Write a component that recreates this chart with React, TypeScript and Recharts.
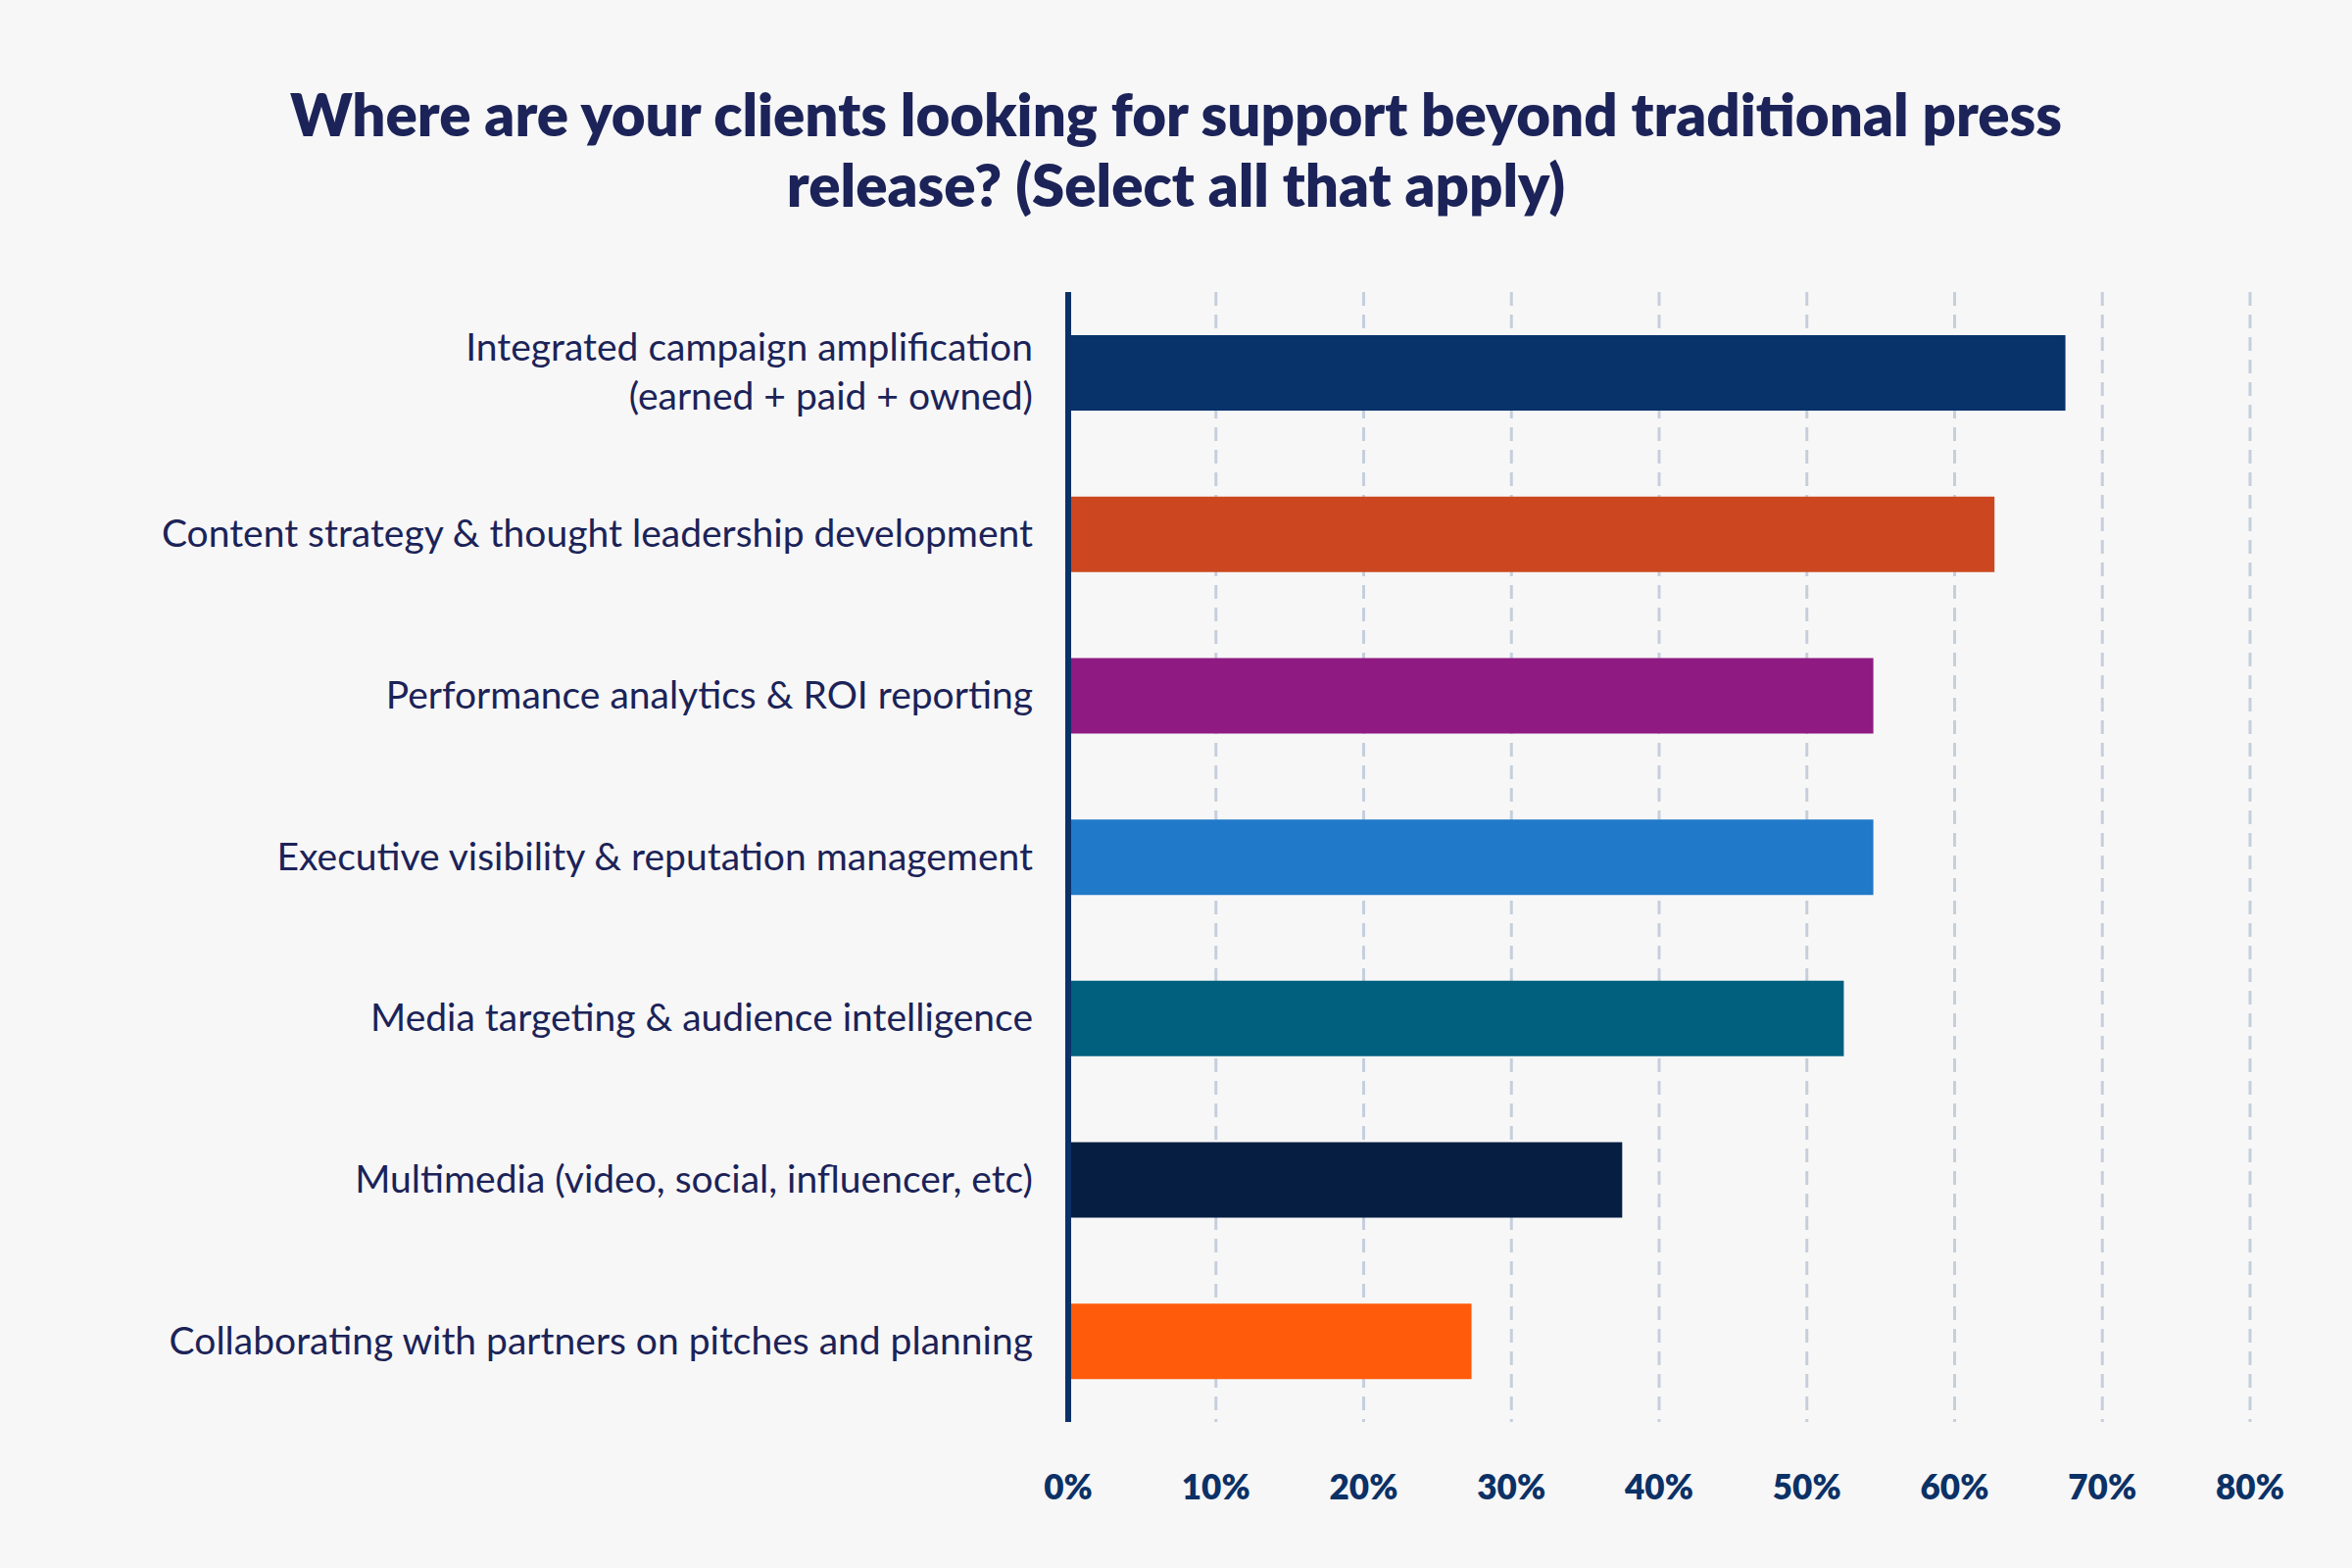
import React from 'react';
import { BarChart, Bar, XAxis, YAxis, CartesianGrid, Cell } from 'recharts';

const categories = [
  'Integrated campaign amplification\n(earned + paid + owned)',
  'Content strategy & thought leadership development',
  'Performance analytics & ROI reporting',
  'Executive visibility & reputation management',
  'Media targeting & audience intelligence',
  'Multimedia (video, social, influencer, etc)',
  'Collaborating with partners on pitches and planning',
];
const values = [67.5, 62.7, 54.5, 54.5, 52.5, 37.5, 27.3];
const colors = ['#08326a', '#cc4720', '#8e1a82', '#2079c9', '#00607e', '#051e42', '#ff5b0a'];
const ticks = [0, 10, 20, 30, 40, 50, 60, 70, 80];

const data = categories.map((c, i) => ({ name: c, value: values[i] }));

const YTick = (props: any) => {
  const { x, y, payload } = props;
  const lines = String(payload.value).split('\n');
  const lh = 50;
  const start = -((lines.length - 1) * lh) / 2;
  return (
    <text x={x} y={y} textAnchor="end" fill="#1b2358" fontSize={39} fontFamily="Lato">
      {lines.map((l, i) => (
        <tspan key={i} x={x} dy={i === 0 ? start + 13 : lh}>{l}</tspan>
      ))}
    </text>
  );
};

export default function App() {
  return (
    <div style={{ position: 'absolute', left: 0, top: 0, width: 2400, height: 1600, background: '#f7f7f7', fontFamily: 'Lato' }}>
      <div style={{ position: 'absolute', top: 80, left: 0, width: 2400, textAlign: 'center', color: '#1b2358', fontSize: 60, fontWeight: 800, lineHeight: '72px' }}>
        Where are your clients looking for support beyond traditional press<br />release? (Select all that apply)
      </div>
      <BarChart width={2400} height={1600} data={data} layout="vertical"
        margin={{ top: 298, right: 104, bottom: 0, left: 0 }} barCategoryGap={44}>
        <CartesianGrid horizontal={false} stroke="#c5cfdc" strokeWidth={3} strokeDasharray="14 9" />
        <XAxis type="number" domain={[0, 80]} ticks={ticks} axisLine={false} tickLine={false}
          tickFormatter={(v) => `${v}%`} tick={{ fill: '#0b3166', fontSize: 35, fontWeight: 800, fontFamily: 'Lato' }}
          tickMargin={48} height={149} />
        <YAxis type="category" dataKey="name" width={1090} axisLine={{ stroke: '#0b3166', strokeWidth: 6 }}
          tickLine={false} tick={<YTick />} tickMargin={30} />
        <Bar dataKey="value" isAnimationActive={false} barSize={77}>
          {data.map((d, i) => <Cell key={i} fill={colors[i]} />)}
        </Bar>
      </BarChart>
    </div>
  );
}
